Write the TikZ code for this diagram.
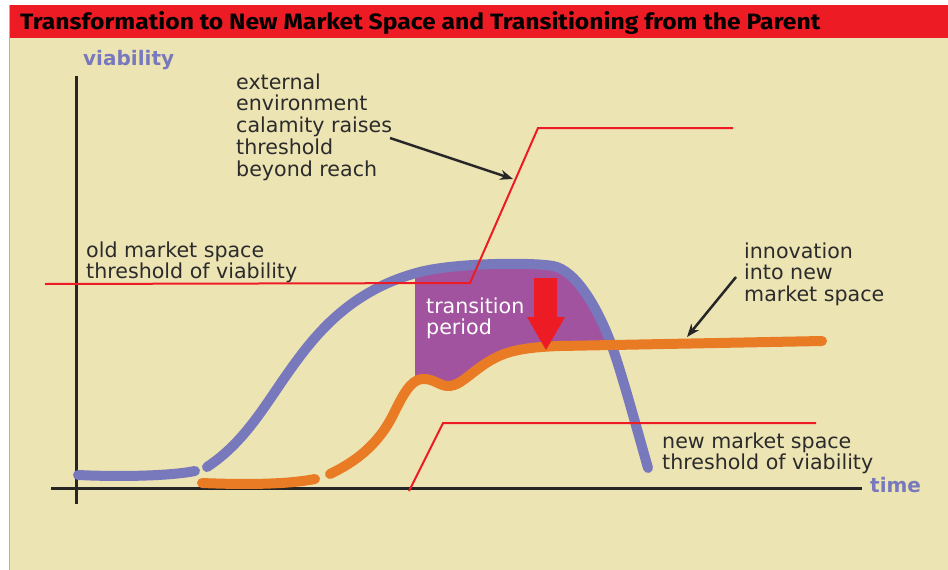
\documentclass[tikz,border=0pt]{standalone}
\usepackage{fontspec}
\setmainfont{DejaVu Sans}
\newfontfamily\titlefont{Fira Sans}
\usetikzlibrary{arrows.meta}
\definecolor{bg}{HTML}{EDE4B4}
\definecolor{tred}{HTML}{ED1C24}
\definecolor{vblue}{HTML}{7878BC}
\definecolor{iorange}{HTML}{E87B24}
\definecolor{tpurple}{HTML}{A2539F}
\definecolor{txt}{HTML}{2B2B2B}
\newcommand{\mylines}[1]{\begin{tabular}[t]{@{}l@{}}#1\end{tabular}}
\newcommand{\bluemain}{(207,467) .. controls (245,442) and (265,405) .. (290,370)
  .. controls (315,335) and (350,290) .. (420,272)
  .. controls (455,263) and (530,262) .. (553,266)
  .. controls (576,270) and (600,310) .. (615,355)
  .. controls (625,385) and (640,440) .. (648,468)}
\newcommand{\orangemain}{(330,474) .. controls (355,462) and (378,445) .. (393,415)
  .. controls (402,397) and (410,380) .. (422,379)
  .. controls (434,378) and (440,387) .. (450,386)
  .. controls (462,385) and (475,368) .. (495,358)
  .. controls (510,350) and (530,347) .. (560,346)
  -- (822,341)}
\begin{document}
\begin{tikzpicture}[x=1pt,y=-1pt,
  lbl/.style={font=\fontsize{20.6}{21}\selectfont, text=txt, inner sep=0pt, anchor=base west},
  axislbl/.style={font=\fontsize{20}{21}\selectfont\bfseries, text=vblue, inner sep=0pt, anchor=base west},
  axisline/.style={line width=3pt, black!85},
  thresh/.style={tred, line width=2pt},
  vcurve/.style={vblue, line width=10pt, line cap=round},
  icurve/.style={iorange, line width=10pt, line cap=round},
  pointer/.style={line width=2.5pt, black!85, -{Stealth[length=13pt,width=10pt]}},
]
\useasboundingbox (0,0) rectangle (948,570);
\fill[white] (0,0) rectangle (948,570);
\fill[bg] (10,38) rectangle (948,570);
\fill[tred] (10,5) rectangle (948,38);
\draw[gray!60, line width=1pt] (9.5,5) -- (9.5,570);
\node[anchor=base west, inner sep=0pt] (title) at (20,29.5)
  {\resizebox{800pt}{18pt}{\titlefont\bfseries Transformation to New Market Space and Transitioning from the Parent}};

% axes
\coordinate (yTop) at (76,76);
\coordinate (yBot) at (76,504);
\coordinate (xLeft) at (51,488);
\coordinate (xRight) at (862,488);
\draw[axisline] (yTop) -- (yBot);
\draw[axisline] (xLeft) -- (xRight);
\node[axislbl] (viab) at (83,65) {viability};
\node[axislbl] (time) at (870,492) {time};

% purple transition area
\begin{scope}
  \clip (415,0) rectangle (948,570);
  \clip \bluemain -- cycle;
  \fill[tpurple] \orangemain -- (822,0) -- (330,0) -- cycle;
\end{scope}

% curves
\draw[vcurve] (78,475) .. controls (120,477) and (170,476) .. (195,471);
\draw[vcurve] \bluemain;
\draw[icurve] (202,483) .. controls (250,485) and (290,484) .. (315,479);
\draw[icurve] \orangemain;

% thresholds
\draw[thresh] (45,284) -- (470,283) -- (538,128) -- (733,128);
\draw[thresh] (409,491) -- (443,423) -- (816,423);

% red drop arrow
\fill[tred] (534,278) -- (557,278) -- (557,317) -- (565,317) -- (546,350) -- (527,317) -- (534,317) -- cycle;

% labels
\node[lbl] (cal) at (236,89) {\mylines{external\\environment\\calamity raises\\threshold\\beyond reach}};
\node[lbl] (old) at (86,257) {\mylines{old market space\\threshold of viability}};
\node[lbl] (innov) at (744,258) {\mylines{innovation\\into new\\market space}};
\node[lbl] (new) at (662,448) {\mylines{new market space\\threshold of viability}};
\node[lbl, text=white] (trans) at (426,313) {\mylines{transition\\period}};

% pointers
\coordinate (calFrom) at (390,138);
\coordinate (calTip) at (513,179);
\coordinate (innFrom) at (736,277);
\coordinate (innTip) at (687,337);
\draw[pointer] (calFrom) -- (calTip);
\draw[pointer] (innFrom) -- (innTip);
\end{tikzpicture}
\end{document}
